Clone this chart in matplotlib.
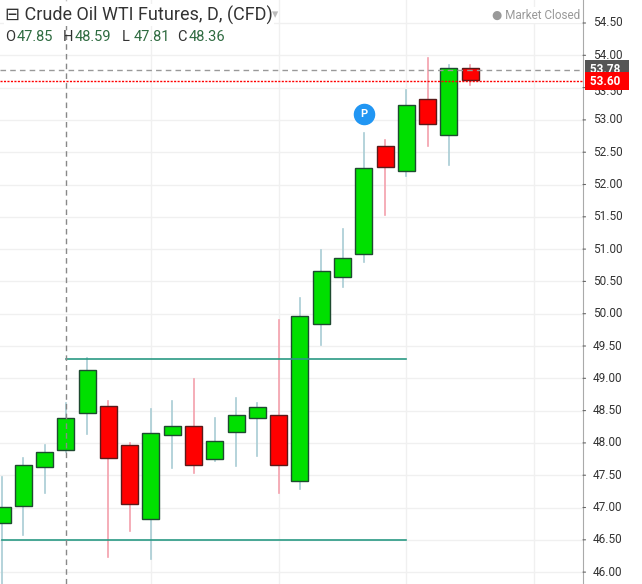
import matplotlib.pyplot as plt
from matplotlib.patches import Rectangle

plt.rcParams['font.family'] = ['Roboto', 'DejaVu Sans']

# daily candles
opens = [46.76, 47.02, 47.63, 47.89, 48.46, 48.57, 47.97, 46.82, 48.12, 48.26, 47.75, 48.17,
         48.39, 48.43, 47.41, 49.84, 50.57, 50.92, 52.60, 52.21, 53.32, 52.77, 53.80]
highs = [47.47, 47.77, 47.97, 48.62, 49.31, 48.65, 48.00, 48.52, 48.65, 48.99, 48.39, 48.70,
         48.62, 49.90, 50.24, 50.99, 51.31, 52.80, 52.69, 53.46, 53.96, 53.85, 53.85]
lows = [45.80, 46.57, 47.22, 47.86, 48.14, 46.23, 46.64, 46.20, 47.61, 47.53, 47.72, 47.64,
        47.80, 47.22, 47.29, 49.52, 50.41, 50.80, 51.53, 52.13, 52.60, 52.30, 53.54]
closes = [47.01, 47.66, 47.86, 48.39, 49.13, 47.77, 47.06, 48.15, 48.26, 47.66, 48.03, 48.43,
          48.56, 47.66, 49.96, 50.66, 50.86, 52.25, 52.27, 53.23, 52.94, 53.80, 53.62]
upper_level = 49.30
lower_level = 46.50
last_price = 53.78
bid_price = 53.60
ticks = [46.0 + 0.5 * i for i in range(18)]

fig = plt.figure(figsize=(6.42, 5.84), dpi=100)
ax = fig.add_axes([0, 0, 583 / 642, 1])
ax.set_xlim(-0.094, 27.3)
ax.set_ylim(45.816, 54.856)

for x in [7, 13, 19, 25]:
    ax.axvline(x, color='#f0f0f0', lw=1, zorder=0)
for t in ticks:
    ax.axhline(t, color='#f0f0f0', lw=1, zorder=0)

for i, (o, h, l, c) in enumerate(zip(opens, highs, lows, closes)):
    up = c >= o
    wick = '#a8ccd4' if up else '#f4a0ac'
    body = '#00e000' if up else '#ff0000'
    edge = '#1e4a30' if up else '#5a1a1a'
    ax.plot([i, i], [l, h], color=wick, lw=1.2, zorder=2)
    ax.add_patch(Rectangle((i - 0.4, min(o, c)), 0.8, abs(c - o), facecolor=body,
                           edgecolor=edge, lw=1, zorder=3))

ax.plot([3, 19], [upper_level, upper_level], color='#2a9a84', lw=1.2, zorder=4)
ax.plot([0, 19], [lower_level, lower_level], color='#2a9a84', lw=1.2, zorder=4)
ax.axvline(3, color='#888888', lw=1, ls=(0, (4, 3)), zorder=4)
ax.axhline(last_price, color='#999999', lw=1, ls=(0, (4, 3)), zorder=4)
ax.axhline(bid_price, color='#ff0000', lw=1, ls=(0, (1.5, 1)), zorder=4)

# "P" marker
ax.scatter([17], [53.09], s=210, color='#2196f3', zorder=5)
ax.text(17, 53.09, 'P', color='white', fontsize=8, fontweight='bold', ha='center', va='center', zorder=6)

ax.set_xticks([])
ax.set_yticks([])
for s in ['top', 'left', 'bottom']:
    ax.spines[s].set_visible(False)
ax.spines['right'].set_color('#aaaaaa')

# right price scale
for t in ticks:
    ax.annotate('', xy=(27.3, t), xytext=(27.55, t), xycoords='data', annotation_clip=False,
                arrowprops=dict(arrowstyle='-', color='#666666', lw=0.8))
    if abs(t - 53.5) > 0.01:
        ax.text(27.75, t, f'{t:.2f}', fontsize=8.5, color='#333333', va='center', ha='left', clip_on=False)
# 53.50 sits mostly under the price tags, only its bottom edge shows
ax.text(27.75, 53.44, '53.50', fontsize=8.5, color='#333333', va='center', ha='left', clip_on=False, zorder=1)
for price, col in [(last_price, '#555555'), (bid_price, '#ff0000')]:
    ax.text(27.5, price, f' {price:.2f}  ', fontsize=8.5, color='white', fontweight='bold',
            va='center', ha='left', clip_on=False, zorder=10,
            bbox=dict(boxstyle='square,pad=0.22', fc=col, ec='none'))

# header
fig.text(5 / 642, 1 - 15 / 584, '\u229f Crude Oil WTI Futures, D, (CFD)', fontsize=13, color='#333333',
         va='center', ha='left', bbox=dict(fc='white', ec='none', pad=1))
fig.text(272 / 642, 1 - 15 / 584, '\u25be', fontsize=9, color='#bbbbbb', va='center')
fig.text(580 / 642, 1 - 15 / 584, '\u25cf Market Closed', fontsize=8.5, color='#999999', va='center', ha='right',
         bbox=dict(fc='white', ec='none', pad=1))
ohlc = [('O', '47.85'), ('H', '48.59'), ('L', '47.81'), ('C', '48.36')]
xpos = [5, 63, 122, 177]
for (k, v), xp in zip(ohlc, xpos):
    fig.text(xp / 642, 1 - 37 / 584, k, fontsize=10.5, color='#333333', va='center', ha='left')
    fig.text((xp + 12) / 642, 1 - 37 / 584, v, fontsize=10.5, color='#2e6b40', va='center', ha='left')

fig.savefig('out.png', dpi=100)
